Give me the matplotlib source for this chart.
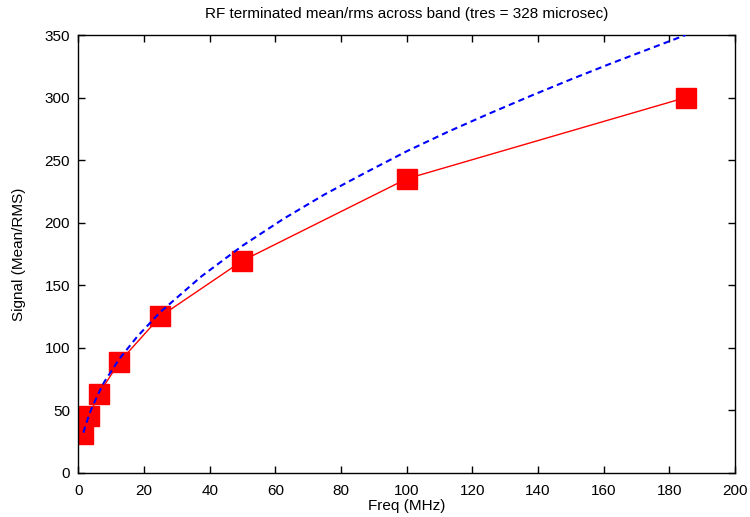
import numpy as np
import matplotlib
matplotlib.use("Agg")
import matplotlib.pyplot as plt

plt.rcParams['font.family'] = ['Liberation Sans', 'DejaVu Sans']

# measured points (red squares)
freq = [1.5625, 3.125, 6.25, 12.5, 25, 50, 100, 185]
signal = [31, 45, 63, 88.5, 125, 169.5, 235, 300]

# dashed fit curve
fit_x = [1.5625, 2, 3.125, 4, 6.25, 8, 12.5, 18, 25, 37.5, 50, 62.5, 75,
         87.5, 100, 112.5, 125, 137.5, 150, 162.5, 175, 185]
fit_y = [32, 36, 45, 51, 64, 73, 91, 109, 128.5, 157, 181.5, 203, 222.5,
         240, 257, 272.5, 287, 301, 314.5, 327.5, 340, 350]

fig = plt.figure(figsize=(7.5, 5.17), dpi=100)
ax = fig.add_axes([0.1044, 0.0857, 0.8756, 0.8466])

ax.plot(freq, signal, color='#ff0000', lw=1, marker='s', ms=14.5,
        mec='#ff0000', mfc='#ff0000', zorder=2)
ax.plot(fit_x, fit_y, color='#0000ff', lw=1.5, ls=(0, (3, 2)), zorder=3)

ax.set_xlim(0, 200)
ax.set_ylim(0, 350)
ax.set_xticks(np.arange(0, 201, 20))
ax.set_yticks(np.arange(0, 351, 50))
ax.tick_params(direction='in', top=True, right=True, length=5, width=1,
               labelsize=11)
ax.tick_params(axis='x', pad=8)
ax.tick_params(axis='y', pad=6)
for s in ax.spines.values():
    s.set_linewidth(1)

ax.set_title('RF terminated mean/rms across band (tres = 328 microsec)',
             fontsize=11, pad=12)
ax.set_xlabel('Freq (MHz)', fontsize=11, labelpad=1)
ax.set_ylabel('Signal (Mean/RMS)', fontsize=11, labelpad=13)

fig.savefig('out.png', dpi=100)
